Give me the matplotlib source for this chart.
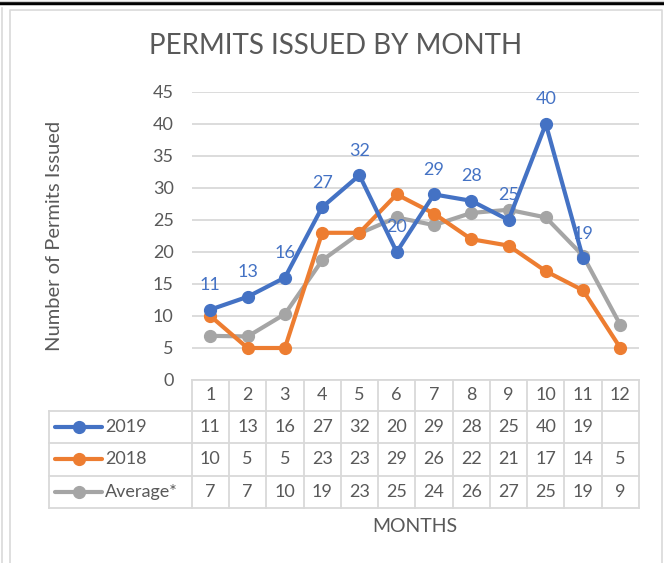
import matplotlib
matplotlib.use("Agg")
import matplotlib.pyplot as plt
from matplotlib.lines import Line2D

# data
months = [1, 2, 3, 4, 5, 6, 7, 8, 9, 10, 11, 12]
permits_2019 = [11, 13, 16, 27, 32, 20, 29, 28, 25, 40, 19]
permits_2018 = [10, 5, 5, 23, 23, 29, 26, 22, 21, 17, 14, 5]
average = [6.9, 6.8, 10.3, 18.7, 22.9, 25.4, 24.2, 26.1, 26.6, 25.4, 19.4, 8.6]
series_names = ["2019", "2018", "Average*"]
colors = ["#4472C4", "#ED7D31", "#A5A5A5"]
yticks = [0, 5, 10, 15, 20, 25, 30, 35, 40, 45]

plt.rcParams['font.family'] = ['Lato', 'DejaVu Sans']
txt = "#595959"
grid = "#D9D9D9"
W, H = 664, 563

fig = plt.figure(figsize=(W / 100, H / 100), dpi=100)

def fx(px):
    return px / W

def fy(py):
    return 1 - py / H

# outer frame bits
fig.add_artist(Line2D([0, 1], [fy(3), fy(3)], color="black", lw=2.5))
fig.add_artist(Line2D([0, 1], [fy(0.5), fy(0.5)], color="#D0D0D0", lw=1))
fig.add_artist(Line2D([fx(2), fx(2)], [fy(8), 0], color="#D9D9D9", lw=1.2))
fig.add_artist(Line2D([fx(9.5), fx(9.5), fx(662), fx(662)],
                      [0, fy(9.5), fy(9.5), 0], color="#D9D9D9", lw=1.2))

# main plot area
left, right, top, bot = 191.7, 639, 92, 380
ax = fig.add_axes([fx(left), fy(bot), fx(right - left), (bot - top) / H])
ax.set_xlim(0.5, 12.5)
ax.set_ylim(0, 45)
for s in ax.spines.values():
    s.set_visible(False)
ax.set_yticks(yticks)
ax.set_xticks([])
ax.tick_params(axis="y", length=0, pad=13, labelsize=13, labelcolor=txt)
ax.yaxis.grid(True, color=grid, lw=1.3)
ax.set_axisbelow(True)

all_series = [permits_2019, permits_2018, average]
for vals, c in zip(all_series[::-1], colors[::-1]):
    ax.plot(months[:len(vals)], vals, color=c, lw=3, marker="o", ms=8.5,
            solid_joinstyle="round", clip_on=False, zorder=3)
# 2019 on top
ax.lines[-1].set_zorder(5)

for m, v in zip(months, permits_2019):
    ax.annotate(str(v), (m, v), xytext=(0, 12), textcoords="offset points",
                ha="center", va="bottom", color="#4472C4", fontsize=13, zorder=6)

fig.text(fx(55), fy(236), "Number of Permits Issued", rotation=90,
         ha="center", va="center", fontsize=14.5, color=txt)

fig.text(fx(336), fy(46), "PERMITS ISSUED BY MONTH", ha="center", va="center",
         fontsize=20, color=txt)

# data table below the plot
tl, tr, tt, tb = 49, 639, 380, 507.7
tax = fig.add_axes([fx(tl), fy(tb), fx(tr - tl), (tb - tt) / H])
unit = (right - left) / 12
x0 = 0.5 - (left - tl) / unit
tax.set_xlim(x0, 12.5)
row_edges = [0, 0.96, 1.98, 3.0, 4.0]
tax.set_ylim(4, 0)
tax.axis("off")
lw = 1.3
tax.plot([0.5, 12.5], [0, 0], color=grid, lw=lw, clip_on=False)
for e in row_edges[1:]:
    tax.plot([x0, 12.5], [e, e], color=grid, lw=lw, clip_on=False)
for k in range(13):
    tax.plot([0.5 + k, 0.5 + k], [0, 4], color=grid, lw=lw, clip_on=False)
tax.plot([x0, x0], [row_edges[1], 4], color=grid, lw=lw, clip_on=False)

fs = 13
for m in months:
    tax.text(m, (row_edges[0] + row_edges[1]) / 2, str(m), ha="center",
             va="center", fontsize=fs, color=txt)
for r, (vals, name, c) in enumerate(zip(all_series, series_names, colors)):
    yc = (row_edges[r + 1] + row_edges[r + 2]) / 2
    for m, v in zip(months, vals):
        tax.text(m, yc, str(int(round(v))), ha="center", va="center",
                 fontsize=fs, color=txt)
    lx = x0 + (55 - tl) / unit
    rx = x0 + (102 - tl) / unit
    tax.plot([lx, rx], [yc, yc], color=c, lw=3, solid_capstyle="round", clip_on=False)
    tax.plot([(lx + rx) / 2], [yc], "o", color=c, ms=8.5, clip_on=False)
    tax.text(rx + 0.08, yc, name, ha="left", va="center", fontsize=fs, color=txt)

fig.text(fx(415), fy(527), "MONTHS", ha="center", va="center", fontsize=14, color=txt)

fig.savefig("out.png", dpi=100)
